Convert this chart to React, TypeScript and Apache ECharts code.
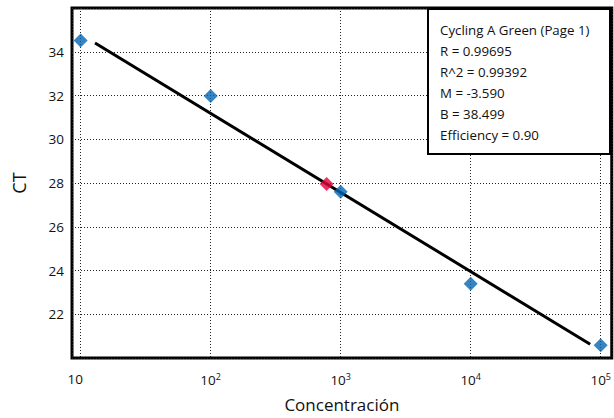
import React, { useEffect, useRef } from "react";
import * as echarts from "echarts";

const concentrations = [10, 100, 1000, 10000, 100000];
const ctValues = [34.52, 31.98, 27.6, 23.39, 20.58];
const unknownConc = [780];
const unknownCt = [27.95];
const fitConc = [12.9, 83000];
const fitCt = [34.4, 20.63];
const yTicks = [22, 24, 26, 28, 30, 32, 34];
const statLines = [
  "Cycling A Green (Page 1)",
  "R = 0.99695",
  "R^2 = 0.99392",
  "M = -3.590",
  "B = 38.499",
  "Efficiency = 0.90",
];

const FONT = "'Open Sans', 'Noto Sans', sans-serif";

export default function App() {
  const ref = useRef<HTMLDivElement>(null);
  useEffect(() => {
    if (!ref.current) return;
    const chart = echarts.init(ref.current, null, { renderer: "svg" });
    const grid = { left: 72, top: 8, right: 1.5, bottom: 59 };
    chart.setOption({
      animation: false,
      backgroundColor: "#ffffff",
      textStyle: { fontFamily: FONT },
      grid: { ...grid, show: true, borderColor: "#000", borderWidth: 3, backgroundColor: "transparent" },
      xAxis: {
        type: "log",
        logBase: 10,
        min: 8.58,
        max: 121600,
        name: "Concentración",
        nameLocation: "middle",
        nameGap: 38,
        nameTextStyle: { fontSize: 17, color: "#111", fontFamily: FONT },
        axisLine: { show: false },
        axisTick: { show: false },
        splitLine: { show: true, lineStyle: { color: "#222", width: 1, type: [1, 2] } },
        axisLabel: {
          margin: 14,
          showMinLabel: false,
          showMaxLabel: false,
          color: "#111",
          fontSize: 13.5,
          fontFamily: FONT,
          formatter: (v: number) => {
            const e = Math.round(Math.log10(v));
            if (Math.abs(Math.log10(v) - e) > 1e-6) return "";
            if (e === 1) return "{first|10}";
            return `{b|10}{sup|${e}}`;
          },
          rich: {
            first: { fontSize: 13.5, color: "#111", fontFamily: FONT, padding: [0, 11, 0, 0] },
            b: { fontSize: 13.5, color: "#111", fontFamily: FONT },
            sup: { fontSize: 9, color: "#111", fontFamily: FONT, verticalAlign: "top", padding: [0, 0, 6, 0] },
          },
        },
      },
      yAxis: {
        type: "value",
        min: 20,
        max: 36,
        interval: 2,
        name: "CT",
        nameLocation: "middle",
        nameGap: 44,
        nameTextStyle: { fontSize: 18, color: "#111", fontFamily: FONT },
        axisLine: { show: false },
        axisTick: { show: false },
        splitLine: { show: true, lineStyle: { color: "#222", width: 1, type: [1, 2] } },
        axisLabel: {
          margin: 8,
          color: "#111",
          fontSize: 13.5,
          fontFamily: FONT,
          formatter: (v: number) => (yTicks.includes(v) ? String(v) : ""),
        },
      },
      series: [
        {
          type: "line",
          data: fitConc.map((c, i) => [c, fitCt[i]]),
          showSymbol: false,
          symbol: "none",
          lineStyle: { color: "#000", width: 3 },
          z: 3,
        },
        {
          type: "scatter",
          data: concentrations.map((c, i) => [c, ctValues[i]]),
          symbol: "diamond",
          symbolSize: 14,
          itemStyle: { color: "#0565b3" },
          z: 4,
        },
        {
          type: "scatter",
          data: unknownConc.map((c, i) => [c, unknownCt[i]]),
          symbol: "diamond",
          symbolSize: 14,
          itemStyle: { color: "#e5003b" },
          z: 4,
        },
      ],
      graphic: [
        {
          type: "rect",
          left: 427,
          top: 8,
          z: 100,
          shape: { x: 0, y: 0, width: 182, height: 145 },
          style: { fill: "#fff", stroke: "#000", lineWidth: 2 },
        },
        ...statLines.map((t, i) => ({
          type: "text",
          left: 440,
          top: 23 + i * 21,
          z: 101,
          style: {
            text: t,
            fill: "#111",
            font: `13.3px ${FONT}`,
          },
        })),
      ],
    });
    return () => chart.dispose();
  }, []);
  return <div ref={ref} style={{ width: 614, height: 418, position: "absolute", left: 0, top: 0 }} />;
}
